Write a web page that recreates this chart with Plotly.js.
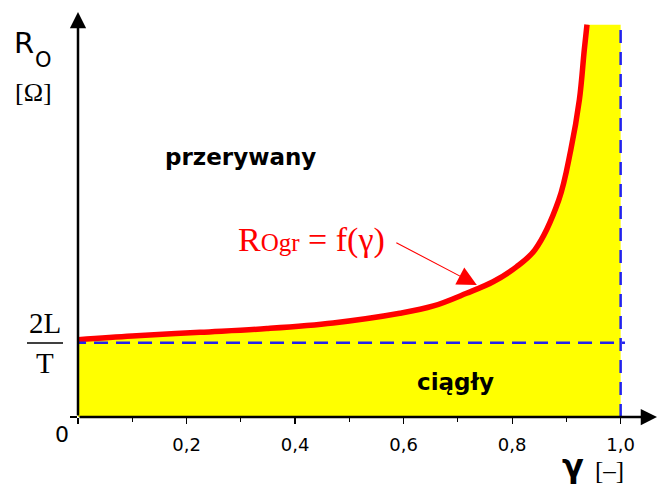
<!DOCTYPE html>
<html>
<head>
<meta charset="utf-8">
<script src="https://cdn.plot.ly/plotly-3.0.1.min.js"></script>
<style>html,body{margin:0;padding:0;background:#fff;}#chart{width:658px;height:491px;}</style>
</head>
<body>
<div id="chart"></div>
<script>
// ---- data (R in units of 2L/T) ----
var gamma = [0, 0.1, 0.225, 0.348, 0.47, 0.593, 0.655, 0.716, 0.765, 0.808, 0.842, 0.886, 0.908, 0.924, 0.933, 0.938];
var rOgr  = [1.04, 1.09, 1.14, 1.19, 1.265, 1.395, 1.494, 1.665, 1.82, 2.02, 2.25, 2.92, 3.59, 4.27, 4.94, 5.28];
var refLevel = 1.0;      // 2L/T
var gammaMax = 1.0;
var xTickVals = [0, 0.2, 0.4, 0.6, 0.8, 1.0];
var xTickText = ['', '0,2', '0,4', '0,6', '0,8', '1,0'];
var xMinorVals = [0.1, 0.3, 0.5, 0.7, 0.9];

// ---- layout geometry ----
var W = 658, H = 491, ML = 78, MR = 1, MT = 12, MB = 74;
var xMax = 1.067, yMax = 5.45;
function PX(p){ return (p - ML) / (W - ML - MR); }
function PY(p){ return (H - MB - p) / (H - MT - MB); }

var gLast = gamma[gamma.length - 1], rLast = rOgr[rOgr.length - 1];

var traces = [
  {x: gamma, y: rOgr, type: 'scatter', mode: 'lines', fill: 'tozeroy',
   fillcolor: '#ffff00', line: {width: 0, shape: 'spline', smoothing: 1.0}, hoverinfo: 'skip'},
  {x: [gLast, gammaMax], y: [rLast, rLast], type: 'scatter', mode: 'lines', fill: 'tozeroy',
   fillcolor: '#ffff00', line: {width: 0}, hoverinfo: 'skip'},
  {x: gamma, y: rOgr, type: 'scatter', mode: 'lines',
   line: {color: '#ff0000', width: 5.5, shape: 'spline', smoothing: 1.0}, hoverinfo: 'skip'}
];

var sans = 'DejaVu Sans, sans-serif';
var serif = 'Liberation Serif, Times New Roman, serif';
var blue = '#2222ee';

var layout = {
  width: W, height: H,
  margin: {l: ML, r: MR, t: MT, b: MB, pad: 0},
  paper_bgcolor: '#ffffff', plot_bgcolor: '#ffffff',
  showlegend: false,
  xaxis: {range: [0, xMax], showgrid: false, zeroline: false, showline: false,
    tickvals: xTickVals, ticktext: xTickText, ticks: 'outside', ticklen: 6, tickwidth: 1.2,
    ticklabelstandoff: 5,
    tickcolor: '#000', tickfont: {family: sans, size: 18, color: '#000'},
    minor: {tickvals: xMinorVals, ticks: 'outside', ticklen: 4, tickwidth: 1, tickcolor: '#000'}},
  yaxis: {range: [0, yMax], showgrid: false, zeroline: false, showline: false,
    tickvals: [0], ticktext: [''], ticks: 'outside', ticklen: 7, tickwidth: 1.2, tickcolor: '#000'},
  shapes: [
    {type: 'line', xref: 'x', yref: 'y', x0: -0.011, x1: gammaMax + 0.008, y0: refLevel, y1: refLevel,
     line: {color: blue, width: 2.5, dash: '14px,8px'}, layer: 'above'},
    {type: 'line', xref: 'x', yref: 'y', x0: gammaMax, x1: gammaMax, y0: 0, y1: rLast,
     line: {color: blue, width: 2.5, dash: '13px,9px'}, layer: 'above'},
    {type: 'line', xref: 'paper', yref: 'paper', x0: PX(27), x1: PX(63), y0: PY(343), y1: PY(343),
     line: {color: '#000', width: 1.3}}
  ],
  annotations: [
    // axes with arrows
    {x: xMax, y: 0, ax: 0, ay: 0, xref: 'x', yref: 'y', axref: 'x', ayref: 'y', text: '',
     showarrow: true, arrowhead: 2, arrowsize: 1.3, arrowwidth: 2.5, arrowcolor: '#000', standoff: 0},
    {x: 0, y: yMax, ax: 0, ay: 0, xref: 'x', yref: 'y', axref: 'x', ayref: 'y', text: '',
     showarrow: true, arrowhead: 2, arrowsize: 1.3, arrowwidth: 2.5, arrowcolor: '#000', standoff: 0},
    // curve label with arrow
    {x: 0.735, y: 1.777, xref: 'x', yref: 'y', ax: -82, ay: -43, text: '',
     showarrow: true, arrowhead: 2, arrowsize: 3.5, arrowwidth: 1.1, arrowcolor: '#ff0000', standoff: 0},
    {x: PX(311), y: PY(240), xref: 'paper', yref: 'paper', showarrow: false,
     text: 'R<span style="font-size:25px">Ogr</span> = f(γ)',
     font: {family: serif, size: 34, color: '#ff0000'}, xanchor: 'center', yanchor: 'middle'},
    // region labels
    {x: PX(240), y: PY(157), xref: 'paper', yref: 'paper', showarrow: false, text: '<b>przerywany</b>',
     font: {family: sans, size: 23, color: '#000'}, xanchor: 'center', yanchor: 'middle'},
    {x: PX(455), y: PY(382), xref: 'paper', yref: 'paper', showarrow: false, text: '<b>ciągły</b>',
     font: {family: sans, size: 23, color: '#000'}, xanchor: 'center', yanchor: 'middle'},
    // y axis title
    {x: PX(24), y: PY(43), xref: 'paper', yref: 'paper', showarrow: false, text: 'R',
     font: {family: sans, size: 29, color: '#000'}, xanchor: 'center', yanchor: 'middle'},
    {x: PX(43), y: PY(60), xref: 'paper', yref: 'paper', showarrow: false, text: 'O',
     font: {family: sans, size: 21, color: '#000'}, xanchor: 'center', yanchor: 'middle'},
    {x: PX(33), y: PY(92), xref: 'paper', yref: 'paper', showarrow: false, text: '[Ω]',
     font: {family: serif, size: 26, color: '#000'}, xanchor: 'center', yanchor: 'middle'},
    // 2L/T
    {x: PX(45), y: PY(323), xref: 'paper', yref: 'paper', showarrow: false, text: '2L',
     font: {family: serif, size: 29, color: '#000'}, xanchor: 'center', yanchor: 'middle'},
    {x: PX(45), y: PY(363), xref: 'paper', yref: 'paper', showarrow: false, text: 'T',
     font: {family: serif, size: 29, color: '#000'}, xanchor: 'center', yanchor: 'middle'},
    // origin 0
    {x: PX(62), y: PY(434), xref: 'paper', yref: 'paper', showarrow: false, text: '0',
     font: {family: sans, size: 22, color: '#000'}, xanchor: 'center', yanchor: 'middle'},
    // x axis title
    {x: PX(573), y: PY(466), xref: 'paper', yref: 'paper', showarrow: false, text: '<b>γ</b>',
     font: {family: sans, size: 32, color: '#000'}, xanchor: 'center', yanchor: 'middle'},
    {x: PX(609), y: PY(470), xref: 'paper', yref: 'paper', showarrow: false, text: '[–]',
     font: {family: serif, size: 25, color: '#000'}, xanchor: 'center', yanchor: 'middle'}
  ]
};

Plotly.newPlot('chart', traces, layout, {staticPlot: true, displayModeBar: false});
</script>
</body>
</html>
